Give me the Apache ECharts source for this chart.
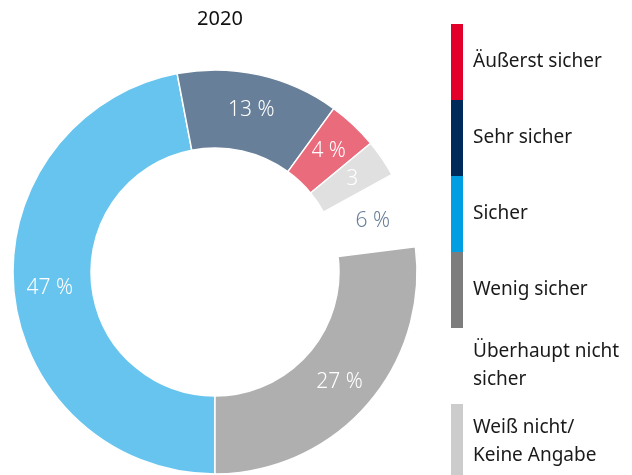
<!DOCTYPE html>
<html>
<head>
<meta charset="utf-8">
<script src="https://cdn.jsdelivr.net/npm/echarts@6/dist/echarts.min.js"></script>
<style>
  html, body { margin: 0; padding: 0; background: #fff; }
  #main { width: 632px; height: 475px; }
</style>
</head>
<body>
<div id="main"></div>
<script>
// slices in drawing order (clockwise from 6 o'clock)
var names = ['Sicher', 'Sehr sicher', 'Äußerst sicher', 'Weiß nicht/ Keine Angabe', 'Überhaupt nicht sicher', 'Wenig sicher'];
var values = [47, 13, 4, 3, 6, 27];
var labels = ['47 %', '13 %', '4 %', '3', '6 %', '27 %'];
var sliceColors = ['#66c4ef', '#677f99', '#ea6b7c', '#e0e0e0', '#ffffff', '#afafaf'];

// legend order and its (full) colours
var legendNames = ['Äußerst sicher', 'Sehr sicher', 'Sicher', 'Wenig sicher', 'Überhaupt nicht sicher', 'Weiß nicht/ Keine Angabe'];
var legendText = ['Äußerst sicher', 'Sehr sicher', 'Sicher', 'Wenig sicher', 'Überhaupt nicht\nsicher', 'Weiß nicht/\nKeine Angabe'];
var legendColors = ['#e2002b', '#002a5a', '#009fe3', '#7d7d7d', '#ffffff', '#cccccc'];

var font = 'Noto Sans';
var myChart = echarts.init(document.getElementById('main'));

var pieData = [];
for (var i = 0; i < names.length; i++) {
  pieData.push({
    name: names[i],
    value: values[i],
    itemStyle: { color: sliceColors[i] },
    label: {
      formatter: labels[i],
      color: names[i] === 'Überhaupt nicht sicher' ? '#677f99' : '#ffffff'
    }
  });
}

var legendData = [];
for (var j = 0; j < legendNames.length; j++) {
  legendData.push({ name: legendNames[j], itemStyle: { color: legendColors[j], borderWidth: 0 } });
}

var option = {
  animation: false,
  title: {
    text: '2020',
    left: 215,
    top: 4,
    textAlign: 'center',
    textStyle: { fontFamily: font, fontSize: 20, fontWeight: 'normal', color: '#111' }
  },
  legend: {
    orient: 'vertical',
    left: 451,
    top: 24,
    height: 1000,
    padding: 0,
    itemWidth: 12,
    itemHeight: 76,
    itemGap: 0,
    icon: 'rect',
    selectedMode: false,
    itemStyle: { borderWidth: 0 },
    data: legendData,
    formatter: function (n) { return legendText[legendNames.indexOf(n)]; },
    textStyle: { fontFamily: font, fontSize: 19, color: '#1a1a1a', lineHeight: 28, padding: [0, 0, 0, 5] }
  },
  series: [{
    type: 'pie',
    center: [215, 272],
    radius: [124, 202],
    startAngle: -90,
    clockwise: true,
    avoidLabelOverlap: false,
    silent: true,
    itemStyle: { borderColor: '#fff', borderWidth: 1.5 },
    label: {
      show: true,
      position: 'inside',
      fontFamily: font,
      fontSize: 21,
      fontWeight: 300
    },
    labelLine: { show: false },
    emphasis: { disabled: true },
    data: pieData
  }]
};
myChart.setOption(option);
</script>
</body>
</html>
